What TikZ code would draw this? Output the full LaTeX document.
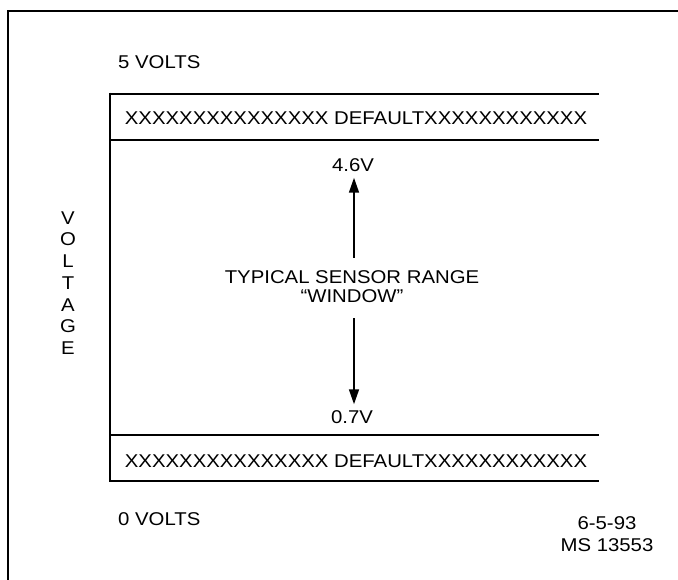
\documentclass[tikz,border=0pt]{standalone}
\usepackage{fontspec}
\setmainfont{Liberation Sans}[FakeStretch=1.1]
\usetikzlibrary{arrows.meta}
\begin{document}
\begin{tikzpicture}[x=1pt,y=-1pt,
  lbl/.style={font=\fontsize{18.5}{19}\selectfont, inner sep=0pt},
  frameline/.style={line width=2pt},
  bandline/.style={line width=2.8pt},
  arr/.style={line width=1.6pt,-{Triangle[length=15pt,width=10pt]}}]
\useasboundingbox (0,0) rectangle (678,580);
% outer frame (top and left edges)
\draw[frameline] (678,11) -- (8,11) -- (8,580);
% bands
\draw[bandline] (110,94) -- (599,94);
\draw[bandline] (110,140) -- (599,140);
\draw[bandline] (110,435) -- (599,435);
\draw[bandline] (110,481) -- (599,481);
\draw[bandline] (110,92.6) -- (110,482.4);
% labels
\node[lbl, anchor=west] (v5) at (118,62) {5 VOLTS};
\node[lbl, anchor=west] (v0) at (118,519) {0 VOLTS};
\node[lbl] (topband) at (356,118) {XXXXXXXXXXXXXXX DEFAULTXXXXXXXXXXXX};
\node[lbl] (botband) at (356,461) {XXXXXXXXXXXXXXX DEFAULTXXXXXXXXXXXX};
\node[lbl, align=center, font=\fontsize{18.5}{21.7}\selectfont] (volt) at (68,283) {V\\O\\L\\T\\A\\G\\E};
\node[lbl] (v46) at (353,165) {4.6V};
\node[lbl] (v07) at (352,417) {0.7V};
\node[lbl, align=center, font=\fontsize{18.5}{19}\selectfont] (range) at (352,287) {TYPICAL SENSOR RANGE\\“WINDOW”};
\node[lbl, align=center, font=\fontsize{18.5}{22}\selectfont] (date) at (607,534) {6-5-93\\MS 13553};
% arrows
\draw[arr, shorten >=6pt, shorten <=13pt] (range.north -| 354,0) -- (v46.south -| 354,0);
\draw[arr, shorten >=6pt, shorten <=15pt] (range.south -| 354,0) -- (v07.north -| 354,0);
\end{tikzpicture}
\end{document}
